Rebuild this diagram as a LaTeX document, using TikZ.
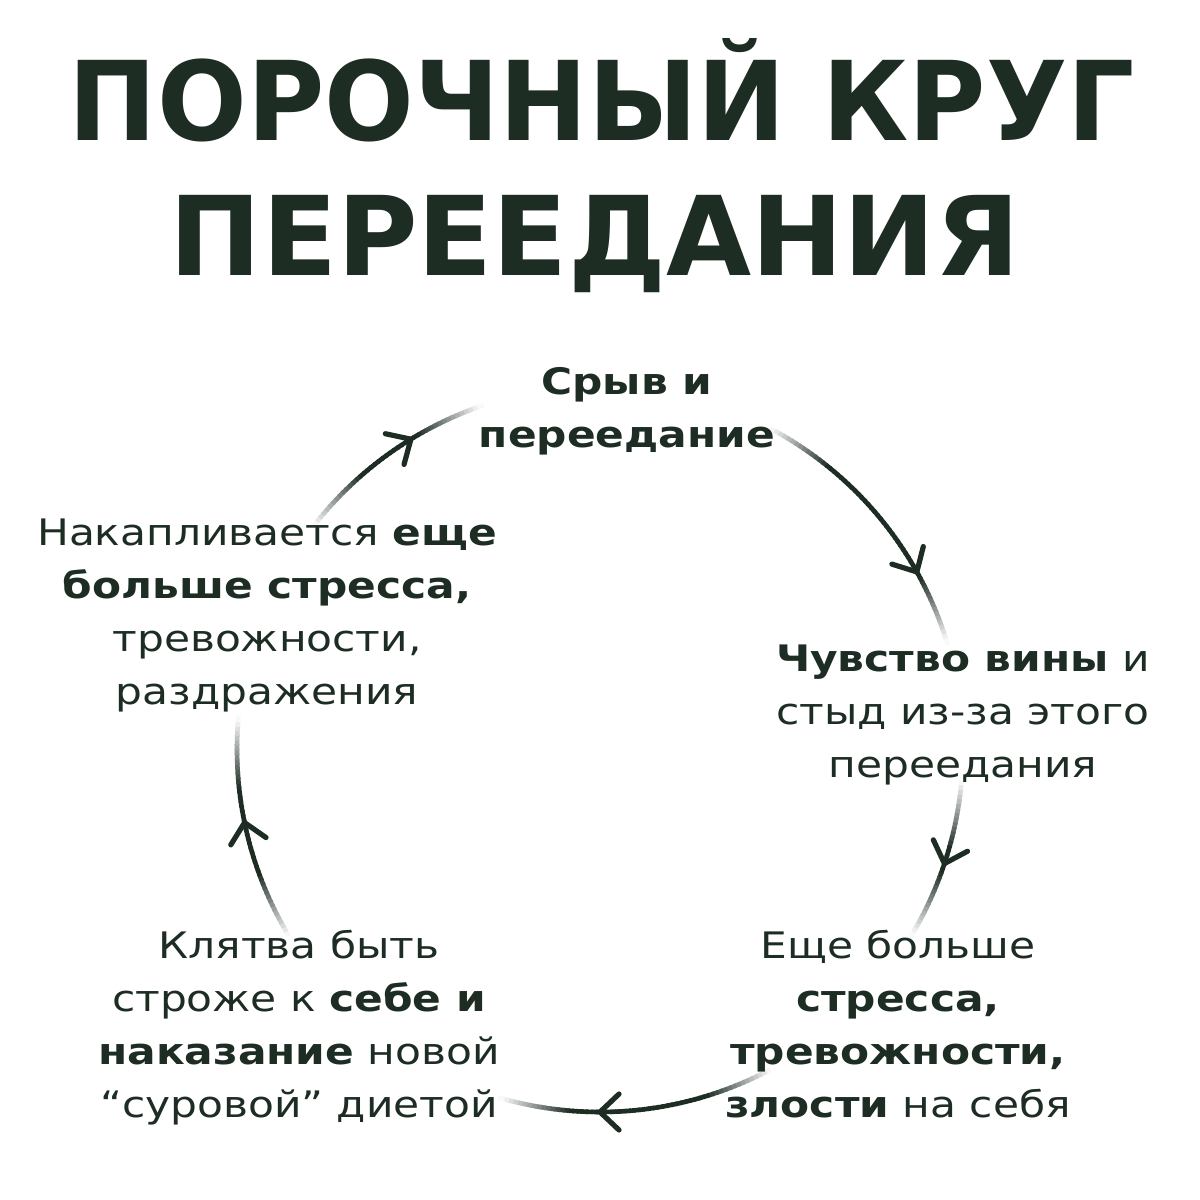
\documentclass[tikz,border=0pt]{standalone}
\usepackage{fontspec}
\setmainfont{DejaVu Sans}
\newfontfamily\bodyfont[FakeStretch=1.16]{DejaVu Sans}
\newfontfamily\titlefont{DejaVu Sans}
\usetikzlibrary{calc}
\definecolor{ink}{HTML}{1E2D24}
\tikzset{
  titletext/.style={text=ink, inner sep=0pt, anchor=base, font=\titlefont\bfseries\fontsize{55}{60}\selectfont},
  bodytext/.style={text=ink, inner sep=0pt, anchor=base, align=center, font=\bodyfont\fontsize{18.25}{26.5}\selectfont},
  arcline/.style={line width=2.3pt, line cap=butt},
  chevline/.style={line width=2.6pt, line cap=round, line join=round, draw=ink},
}
\newcommand\fadearc[2]{%
  \pgfmathsetmacro\fa{#1}\pgfmathsetmacro\fb{#2}%
  \pgfmathtruncatemacro\nseg{round((\fa-\fb)/0.75)}%
  \foreach \k in {1,...,\nseg}{%
    \pgfmathsetmacro\tA{\fa-(\fa-\fb)*(\k-1)/\nseg}%
    \pgfmathsetmacro\tB{\fa-(\fa-\fb)*\k/\nseg-0.3}%
    \pgfmathsetmacro\tm{(\tA+\tB)/2}%
    \pgfmathtruncatemacro\pp{max(3,min(100,100*(\fa-\tm)/11,100*(\tm-\fb)/11))}%
    \draw[arcline, draw=ink!\pp!white] ($(C)+(\tA:363)$) arc[start angle=\tA, end angle=\tB, radius=363];
  }%
}
\newcommand\chevat[1]{%
  \begin{scope}[shift={(C)}, rotate=#1]
    \draw[chevline] (381,19) -- (363,0) -- (345,19);
  \end{scope}%
}
\begin{document}
\begin{tikzpicture}[x=0.5pt, y=0.5pt]
\fill[white] (0,0) rectangle (1200,-1200);
\path[use as bounding box] (0,0) rectangle (1200,-1200);
\coordinate (C) at (600,-749);

% title
\node[titletext] (t1) at (602,-140) {\scalebox{0.96}[1]{ПОРОЧНЫЙ КРУГ}};
\node[titletext] (t2) at (595,-275) {\scalebox{1.0}[1]{ПЕРЕЕДАНИЯ}};

% cycle arcs
\fadearc{142}{109}
\fadearc{62}{17}
\fadearc{-5}{-31}
\fadearc{-62}{-106}
\fadearc{211}{175}
\chevat{121.4}
\chevat{29.2}
\chevat{-18.4}
\chevat{-90}
\chevat{191.7}

% texts (anchor base = last line's baseline)
\node[bodytext] (a) at (627,-447) {\textbf{Срыв и}\\\textbf{переедание}};
\node[bodytext] (b) at (963,-777) {\textbf{Чувство вины} и\\стыд из-за этого\\переедания};
\node[bodytext] (c) at (898,-1117) {Еще больше\\\textbf{стресса,}\\\textbf{тревожности,}\\\textbf{злости} на себя};
\node[bodytext] (d) at (299,-1117) {Клятва быть\\строже к \textbf{себе и}\\\textbf{наказание} новой\\“суровой” диетой};
\node[bodytext] (e) at (267,-704) {Накапливается \textbf{еще}\\\textbf{больше стресса,}\\тревожности,\\раздражения};
\end{tikzpicture}
\end{document}
